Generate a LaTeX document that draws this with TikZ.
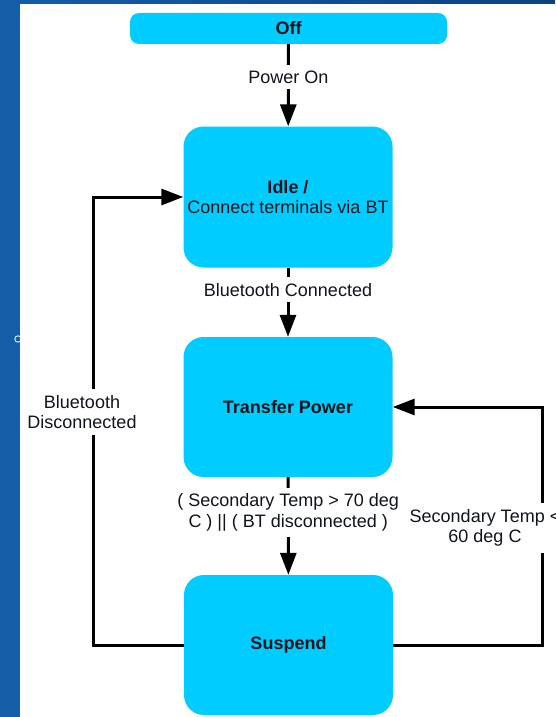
\documentclass[tikz,border=0pt]{standalone}
\usepackage{fontspec}
\setmainfont{Liberation Sans}
\usetikzlibrary{arrows.meta}
\definecolor{bgblue}{RGB}{20,94,168}
\definecolor{bgdark}{RGB}{12,66,128}
\definecolor{stcyan}{RGB}{0,204,255}
\definecolor{txt}{RGB}{16,20,28}
\tikzset{
  state/.style={draw=none, fill=stcyan, rounded corners=20pt, minimum width=209pt,
    minimum height=141pt, inner sep=0pt, font=\fontsize{18}{20.5}\selectfont\bfseries,
    text=txt, align=center},
  lbl/.style={fill=white, font=\fontsize{18}{20.5}\selectfont, text=txt, align=center,
    inner xsep=2pt, inner ysep=6pt},
  conn/.style={line width=3pt, draw=black},
  arr/.style={conn, -{Triangle[length=22pt,width=16pt]}},
}
\begin{document}
\begin{tikzpicture}[x=1pt, y=-1pt]
  \useasboundingbox (0,0) rectangle (555,717);
  % background
  \fill[bgblue] (0,0) rectangle (555,717);
  \shade[left color=bgblue, right color=bgdark] (0,0) rectangle (555,4);
  \fill[white] (20,4) rectangle (555,717);
  \draw[white, line width=0.8pt] (18,339) circle (3.2);

  % states
  \node[state, rounded corners=9pt, minimum width=317pt, minimum height=31pt] (off) at (288.5,28.5) {Off};
  \node[state] (idle) at (288,197) {Idle /\\[-1pt]{\mdseries Connect terminals via BT}};
  \node[state, minimum height=140pt] (transfer) at (288,407) {Transfer Power};
  \node[state, minimum height=140pt] (suspend) at (288.5,645) {Suspend};

  % straight transitions
  \draw[arr] (off) -- node[lbl, pos=0.40] (lpower) {Power On} (idle);
  \draw[arr] (idle) -- node[lbl, pos=0.32] (lbtc) {Bluetooth Connected} (transfer);
  \draw[arr] (transfer) -- node[lbl, pos=0.36] (ltemp) {( Secondary Temp > 70 deg\\C ) || ( BT disconnected )} (suspend);

  % loops
  \coordinate (lcorner) at (93,645);
  \coordinate (rcorner) at (542,645);
  \draw[arr] (suspend.west) -- (lcorner) |- (idle.west);
  \draw[arr] (suspend.east) -- (rcorner) |- (transfer.east);
  \node[lbl] (lbtd) at (82,412) {Bluetooth\\Disconnected};
  \node[lbl] (lcool) at (485,528) {Secondary Temp <\\60 deg C};
\end{tikzpicture}
\end{document}
